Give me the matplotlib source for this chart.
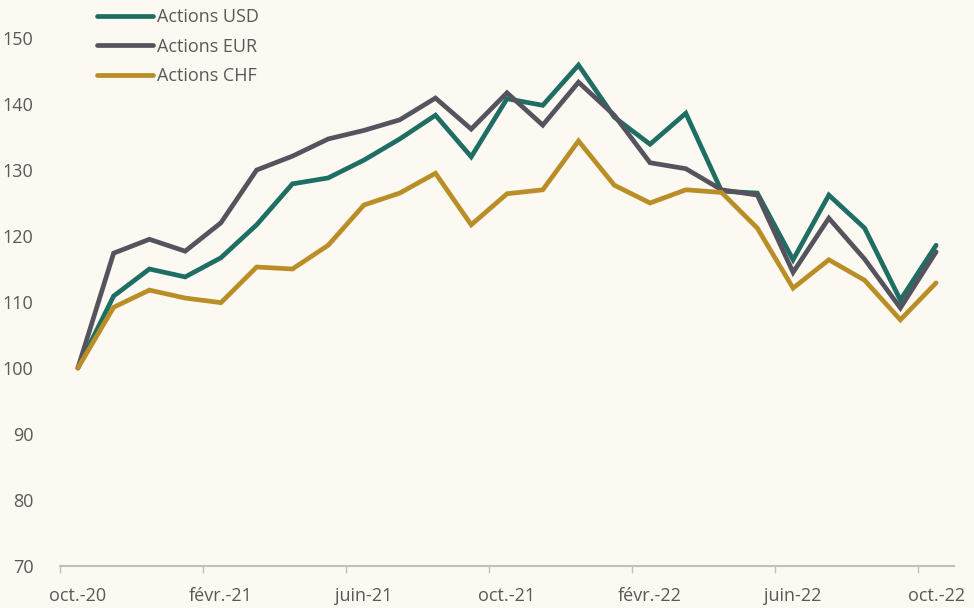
import matplotlib.pyplot as plt
import numpy as np

months = ["oct.-20", "nov.-20", "déc.-20", "janv.-21", "févr.-21", "mars-21", "avr.-21",
          "mai-21", "juin-21", "juil.-21", "août-21", "sept.-21", "oct.-21", "nov.-21",
          "déc.-21", "janv.-22", "févr.-22", "mars-22", "avr.-22", "mai-22", "juin-22",
          "juil.-22", "août-22", "sept.-22", "oct.-22"]

usd = [100, 110.9, 115.0, 113.8, 116.7, 121.7, 127.9, 128.8, 131.5, 134.7, 138.3, 132.0,
       140.8, 139.8, 145.9, 138.0, 133.9, 138.6, 126.8, 126.5, 116.4, 126.2, 121.2, 110.3, 118.6]
eur = [100, 117.4, 119.5, 117.7, 122.0, 130.0, 132.1, 134.7, 136.0, 137.6, 140.9, 136.2,
       141.7, 136.8, 143.3, 138.3, 131.1, 130.2, 127.0, 126.2, 114.5, 122.7, 116.5, 109.1, 117.6]
chf = [100, 109.2, 111.8, 110.6, 109.9, 115.3, 115.0, 118.6, 124.7, 126.5, 129.5, 121.7,
       126.4, 127.0, 134.4, 127.7, 125.0, 127.0, 126.6, 121.2, 112.1, 116.4, 113.3, 107.3, 112.9]

series = [("Actions USD", usd, "#1f6e64"),
          ("Actions EUR", eur, "#55545e"),
          ("Actions CHF", chf, "#b98e26")]

bg = "#fcf9f2"
txt = "#595959"
fnt = ["Open Sans", "DejaVu Sans"]

fig = plt.figure(figsize=(9.74, 6.08), dpi=100, facecolor=bg)
ax = fig.add_axes([60/974, 42/608, 894/974, 528/608], facecolor=bg)

x = np.arange(len(months))
for name, vals, col in series:
    ax.plot(x, vals, color=col, lw=3.4, label=name, solid_joinstyle="miter",
            solid_capstyle="round")

ax.set_xlim(-0.5, len(months) - 0.5)
ax.set_ylim(70, 150)
ax.set_yticks(np.arange(70, 151, 10))

ax.set_xticks(x[::4])
ax.set_xticklabels(months[::4])
ax.set_xticks(x[::4] - 0.5, minor=True)
ax.tick_params(axis="x", which="major", length=0, pad=15, labelsize=13, labelcolor=txt)
ax.tick_params(axis="x", which="minor", length=5, color="#bfbfbf", width=1)
ax.tick_params(axis="y", length=0, pad=19, labelsize=13, labelcolor=txt)

for s in ["top", "right", "left"]:
    ax.spines[s].set_visible(False)
ax.spines["bottom"].set_color("#bfbfbf")
ax.spines["bottom"].set_linewidth(1.5)

for lab in ax.get_xticklabels() + ax.get_yticklabels():
    lab.set_family(fnt)

leg = ax.legend(loc="upper left", bbox_to_anchor=(0.041, 1.056), frameon=False,
                handlelength=3.1, handletextpad=0.25, labelspacing=0.62,
                borderpad=0, borderaxespad=0,
                prop={"family": fnt, "size": 13})
for t in leg.get_texts():
    t.set_color(txt)

fig.savefig("out.png", dpi=100, facecolor=bg)
